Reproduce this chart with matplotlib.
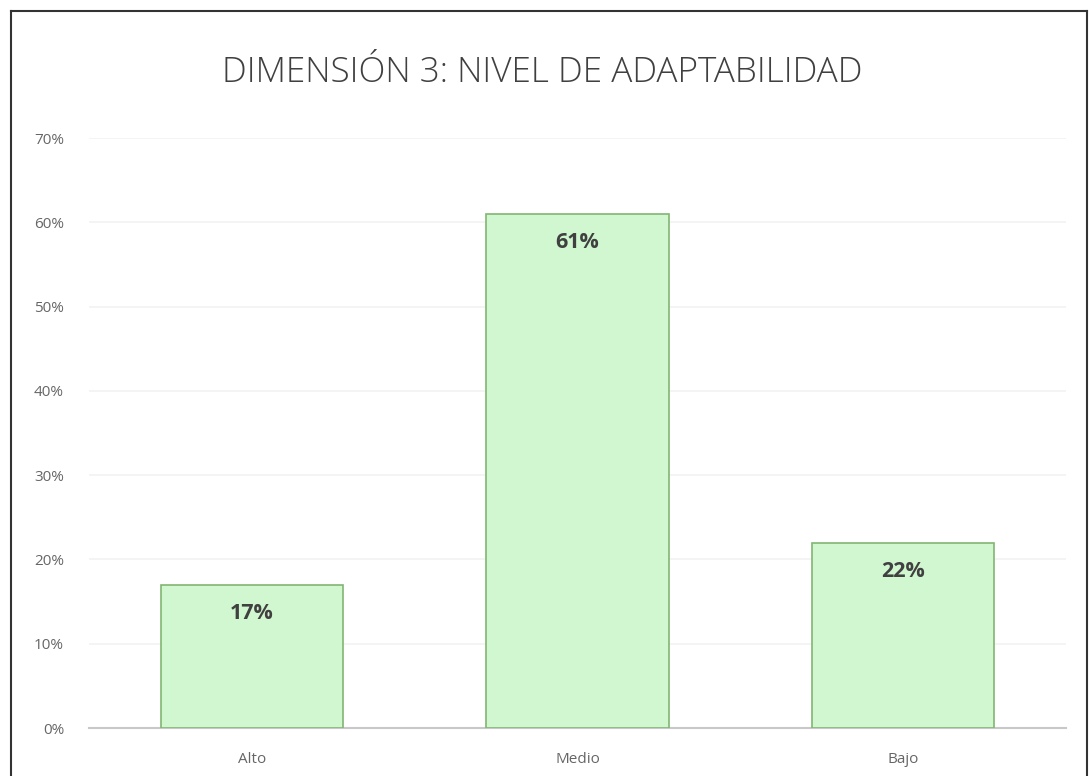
import matplotlib
matplotlib.use("Agg")
import matplotlib.pyplot as plt
from matplotlib.lines import Line2D
from matplotlib.ticker import FuncFormatter

categories = ["Alto", "Medio", "Bajo"]
values = [17, 61, 22]
title = "DIMENSIÓN 3: NIVEL DE ADAPTABILIDAD"

plt.rcParams['font.family'] = ['Open Sans', 'DejaVu Sans']

fig = plt.figure(figsize=(10.89, 7.76), dpi=100)
ax = fig.add_axes([89/1089, 48/776, 977/1089, 590/776])

x = range(len(categories))
bars = ax.bar(x, values, width=0.56, color="#d1f7d1", edgecolor="#82b572", linewidth=1.2, zorder=3)
for xi, v in zip(x, values):
    ax.text(xi, v - 3.4, f"{v}%", ha="center", va="center", fontsize=15.5,
            fontweight="bold", color="#404040", zorder=4)

ax.set_xlim(-0.5, len(categories) - 0.5)
ax.set_ylim(0, 70)
ax.set_yticks(range(0, 71, 10))
ax.yaxis.set_major_formatter(FuncFormatter(lambda v, p: f"{int(v)}%"))
ax.set_xticks(list(x))
ax.set_xticklabels(categories, color="#555555")
ax.grid(axis="y", color="#f2f2f2", linewidth=1.2, zorder=0)
for s in ["top", "right", "left"]:
    ax.spines[s].set_visible(False)
ax.spines["bottom"].set_color("#c8c8c8")
ax.spines["bottom"].set_linewidth(1.5)
ax.tick_params(axis="both", length=0, colors="#666666", labelsize=11)
ax.tick_params(axis="y", pad=18)
ax.tick_params(axis="x", pad=17)

fig.text(542/1089, 1 - 73/776, title, ha="center", va="center", fontsize=25.3,
         color="#404040", fontweight="light")

# outer chart frame
fig.add_artist(Line2D([11/1089, 11/1089], [0, 1 - 11/776], transform=fig.transFigure, color="#333333", lw=1.5))
fig.add_artist(Line2D([11/1089, 1087/1089], [1 - 11/776, 1 - 11/776], transform=fig.transFigure, color="#333333", lw=1.5))
fig.add_artist(Line2D([1087/1089, 1087/1089], [0, 1 - 11/776], transform=fig.transFigure, color="#333333", lw=1.5))

fig.savefig("out.png", dpi=100)
